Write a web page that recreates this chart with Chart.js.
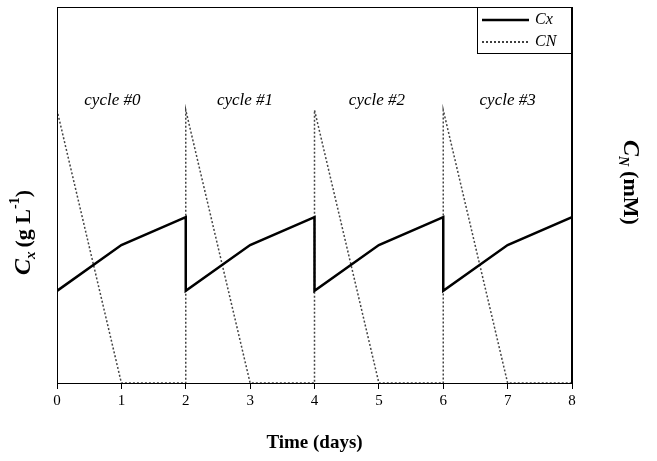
<!DOCTYPE html>
<html><head><meta charset="utf-8">
<script src="https://cdn.jsdelivr.net/npm/chart.js@4/dist/chart.umd.min.js"></script>
<style>html,body{margin:0;background:#fff}#wrap{width:657px;height:461px}</style>
</head><body><div id="wrap"><canvas id="c"></canvas></div>
<script>
const days   = [0, 1, 2, 2, 3, 4, 4, 5, 6, 6, 7, 8];
const cxVals = [2.45, 3.67, 4.41, 2.45, 3.67, 4.41, 2.45, 3.67, 4.41, 2.45, 3.67, 4.41];
const cnDays = [0, 1, 2, 2, 3, 4, 4, 5, 6, 6, 7, 8];
const cnVals = [7.26, 0, 0, 7.26, 0, 0, 7.26, 0, 0, 7.26, 0, 0];
const cycleLabels = ['cycle #0', 'cycle #1', 'cycle #2', 'cycle #3'];
const cycleX = [0.86, 2.92, 4.97, 7.0];

const serif = '"Liberation Serif", "DejaVu Serif", serif';

const deco = {
  id: 'deco',
  afterDraw(ch) {
    const c = ch.ctx, a = ch.chartArea, xs = ch.scales.x, ys = ch.scales.y;
    c.save();
    c.strokeStyle = '#000'; c.lineWidth = 1;
    c.strokeRect(a.left + 0.5, a.top + 0.5, a.right - a.left - 1, a.bottom - a.top);
    // cycle labels
    c.font = 'italic 17px ' + serif; c.fillStyle = '#000'; c.textAlign = 'center'; c.textBaseline = 'middle';
    cycleLabels.forEach((t, i) => c.fillText(t, xs.getPixelForValue(cycleX[i]), ys.getPixelForValue(7.5)));
    // legend
    const lx = a.right - 95, ly = a.top;
    c.strokeRect(lx + 0.5, ly + 0.5, 94, 46);
    c.lineWidth = 2.5; c.beginPath(); c.moveTo(lx + 5, ly + 13); c.lineTo(lx + 52, ly + 13); c.stroke();
    c.lineWidth = 1.5; c.setLineDash([2, 2]); c.beginPath(); c.moveTo(lx + 5, ly + 35); c.lineTo(lx + 52, ly + 35); c.stroke();
    c.setLineDash([]);
    c.textAlign = 'left'; c.font = 'italic 16px ' + serif;
    c.fillText('Cx', lx + 58, ly + 13); c.fillText('CN', lx + 58, ly + 35);
    // x title
    c.textAlign = 'center'; c.font = 'bold 19px ' + serif;
    c.fillText('Time (days)', (a.left + a.right) / 2, 443);
    // left y title
    c.save(); c.translate(24, (a.top + a.bottom) / 2 + 10); c.rotate(-Math.PI / 2);
    c.textAlign = 'left'; c.font = 'bold italic 24px ' + serif;
    let x = -70; c.fillText('C', x, 0); x += c.measureText('C').width;
    c.font = 'bold italic 15px ' + serif; c.fillText('x', x, 7); x += c.measureText('x').width + 4;
    c.font = 'bold 22px ' + serif; c.fillText('(g L', x, 0); x += c.measureText('(g L').width;
    c.font = 'bold 14px ' + serif; c.fillText('-1', x, -9); x += c.measureText('-1').width;
    c.font = 'bold 22px ' + serif; c.fillText(')', x, 0);
    c.restore();
    // right y title
    c.save(); c.translate(630, (a.top + a.bottom) / 2 - 15); c.rotate(Math.PI / 2);
    c.textAlign = 'left'; c.font = 'bold italic 24px ' + serif;
    x = -40; c.fillText('C', x, 0); x += c.measureText('C').width;
    c.font = 'bold italic 14px ' + serif; c.fillText('N', x, 7); x += c.measureText('N').width + 5;
    c.font = 'bold 22px ' + serif; c.fillText('(mM)', x, 0);
    c.restore();
    c.restore();
  }
};

new Chart(document.getElementById('c'), {
  type: 'line',
  data: {
    datasets: [
      { label: 'Cx', data: days.map((d, i) => ({ x: d, y: cxVals[i] })), borderColor: '#000', borderWidth: 2.5, pointRadius: 0, tension: 0 },
      { label: 'CN', data: cnDays.map((d, i) => ({ x: d, y: cnVals[i] })), borderColor: '#444', borderWidth: 1.5, borderDash: [2, 2], pointRadius: 0, tension: 0 }
    ]
  },
  options: {
    responsive: true, maintainAspectRatio: false, animation: false,
    layout: { padding: { top: 7 } },
    plugins: { legend: { display: false }, tooltip: { enabled: false } },
    scales: {
      x: { type: 'linear', min: 0, max: 8,
        ticks: { stepSize: 1, color: '#000', font: { family: serif, size: 15 } },
        grid: { drawOnChartArea: false, tickLength: 6, color: '#000' },
        border: { color: '#000' },
        afterFit: s => { s.height = 78; } },
      y: { min: 0, max: 10, ticks: { display: false }, grid: { display: false },
        border: { color: '#000' }, afterFit: s => { s.width = 57; } },
      y2: { position: 'right', min: 0, max: 10, ticks: { display: false }, grid: { display: false },
        border: { color: '#000' }, afterFit: s => { s.width = 85; } }
    }
  },
  plugins: [deco]
});
</script></body></html>
